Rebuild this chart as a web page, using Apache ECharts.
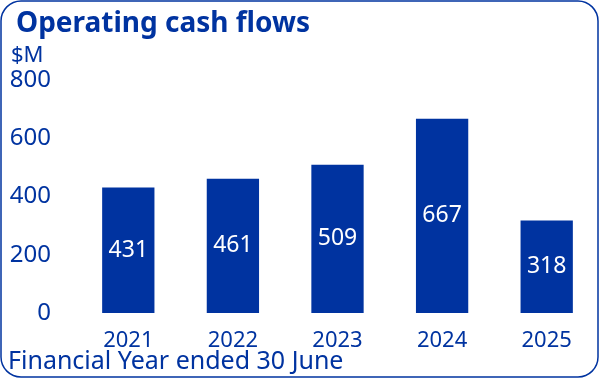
<!DOCTYPE html>
<html><head><meta charset="utf-8">
<script src="https://cdn.jsdelivr.net/npm/echarts@6/dist/echarts.min.js"></script>
<style>html,body{margin:0;padding:0;background:#fff}#c{width:600px;height:380px}</style>
</head><body><div id="c"></div>
<script>
const categories = ['2021','2022','2023','2024','2025'];
const values = [431, 461, 509, 667, 318];
const yTicks = [0, 200, 400, 600, 800];
const BLUE = '#0033a0';
const FONT = 'Noto Sans';
const chart = echarts.init(document.getElementById('c'));
chart.setOption({
  backgroundColor: '#fff',
  animation: false,
  title: [
    {text: 'Operating cash flows', left: 11, top: 5, textStyle: {color: BLUE, fontSize: 28, fontWeight: 'bold', fontFamily: FONT}},
    {text: '$M', left: 6, top: 40, textStyle: {color: BLUE, fontSize: 22, fontWeight: 'normal', fontFamily: FONT}},
    {text: 'Financial Year ended 30 June', left: 3, top: 344, textStyle: {color: BLUE, fontSize: 25, fontWeight: 'normal', fontFamily: FONT}}
  ],
  graphic: [{type: 'rect', shape: {x: 1, y: 1, width: 597, height: 376, r: 20}, style: {fill: 'none', stroke: BLUE, lineWidth: 1.5}, z: 10}],
  grid: {left: 76, right: 1, top: 80, bottom: 67},
  xAxis: {
    type: 'category', data: categories,
    axisLine: {show: false}, axisTick: {show: false},
    axisLabel: {color: BLUE, fontSize: 22, fontFamily: FONT, margin: 17}
  },
  yAxis: {
    type: 'value', min: yTicks[0], max: yTicks[yTicks.length-1], interval: 200,
    splitLine: {show: false}, axisLine: {show: false}, axisTick: {show: false},
    axisLabel: {color: BLUE, fontSize: 24, fontFamily: FONT, margin: 25}
  },
  series: [{
    type: 'bar', data: values, barWidth: '50%',
    itemStyle: {color: BLUE},
    label: {show: true, position: 'inside', color: '#fff', fontSize: 23, fontFamily: FONT}
  }]
});
</script></body></html>
